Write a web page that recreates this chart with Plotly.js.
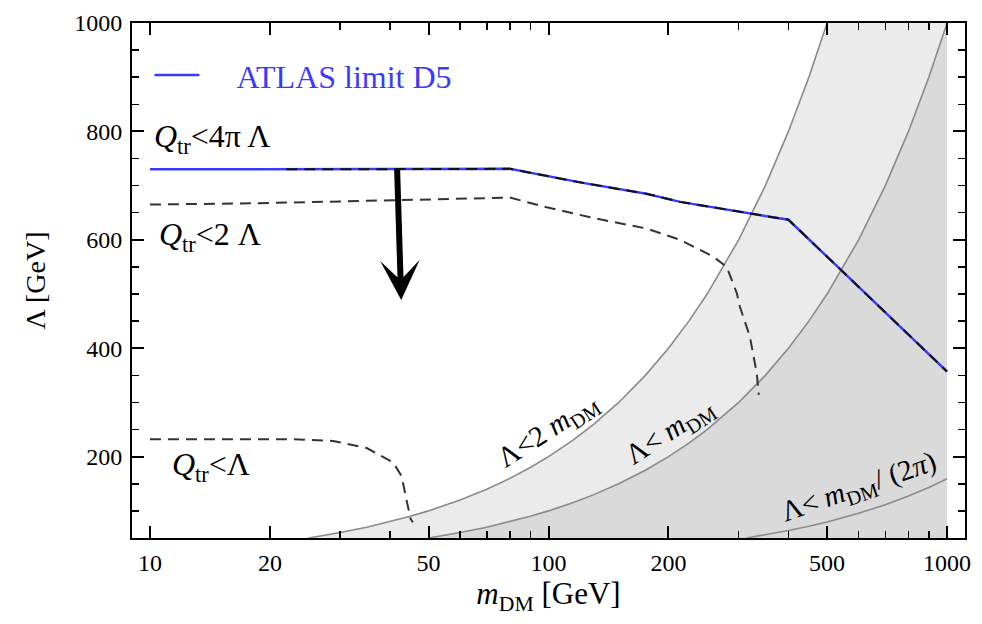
<!DOCTYPE html>
<html>
<head>
<meta charset="utf-8">
<script src="https://cdn.plot.ly/plotly-3.0.1.min.js"></script>
<style>html,body{margin:0;padding:0;background:#fff;}#chart{width:982px;height:624px;}</style>
</head>
<body>
<div id="chart"></div>
<script>
// ---- data ----
const atlasM = [10, 20, 40, 80, 120, 176, 214, 327, 400, 532, 1000];
const atlasL = [730, 730, 731, 731, 706, 685, 670, 648, 637, 550, 357];

const q4piM = [22, 40, 80, 120, 176, 214, 327, 400, 532, 1000];
const q4piL = [730, 731, 731, 706, 685, 670, 648, 637, 550, 357];

const q2M = [10, 20, 40.7, 80, 99, 132, 176, 214, 259, 280, 297, 302, 320, 333, 337];
const q2L = [665, 668, 673, 678, 660, 639, 621, 600, 569, 550, 501, 477, 422, 354, 314];

const q1M = [10, 20, 22.9, 28.8, 35.0, 40.8, 42.8, 44.0, 45.1, 45.7];
const q1L = [232, 232, 232, 229, 216, 189, 164, 121, 85, 79];

const b2mM = [25, 30, 35, 40, 45, 50, 60, 70, 80, 90, 100, 115, 130, 150, 175, 200, 225, 250, 300, 350, 400, 450, 500];
const b2mL = [50, 60, 70, 80, 90, 100, 120, 140, 160, 180, 200, 230, 260, 300, 350, 400, 450, 500, 600, 700, 800, 900, 1000];

const b1mM = [50, 60, 70, 80, 90, 100, 115, 130, 150, 175, 200, 225, 250, 300, 350, 400, 450, 500, 600, 700, 800, 900, 1000];
const b1mL = [50, 60, 70, 80, 90, 100, 115, 130, 150, 175, 200, 225, 250, 300, 350, 400, 450, 500, 600, 700, 800, 900, 1000];

const b2piM = [314, 350, 400, 450, 500, 600, 700, 800, 900, 1000];
const b2piL = [50, 55.7, 63.7, 71.6, 79.6, 95.5, 111.4, 127.3, 143.2, 159.2];

const xTickVals = [10, 20, 50, 100, 200, 500, 1000];
const xTickText = ['10', '20', '50', '100', '200', '500', '1000'];
const xMinorVals = [30, 40, 60, 70, 80, 90, 300, 400, 600, 700, 800, 900];
const yTickVals = [200, 400, 600, 800, 1000];
const yTickText = ['200', '400', '600', '800', '1000'];
const yRange = [50, 1000];
const mMax = 1000;

// ---- styling ----
const SERIF = '"Liberation Serif", "Times New Roman", serif';
const lightFill = '#ebebeb';
const darkFill = '#dadada';
const boundColor = '#8a8a8a';
const NB = '\u00a0';

// shaded regions built from the boundary curves
const lightX = b2mM.concat([mMax, mMax]);
const lightY = b2mL.concat([yRange[1], yRange[0]]);
const darkX = b1mM.concat([mMax]);
const darkY = b1mL.concat([yRange[0]]);

const traces = [
  {x: lightX, y: lightY, type: 'scatter', mode: 'lines', fill: 'toself', fillcolor: lightFill,
   line: {width: 0}, showlegend: false, hoverinfo: 'skip'},
  {x: darkX, y: darkY, type: 'scatter', mode: 'lines', fill: 'toself', fillcolor: darkFill,
   line: {width: 0}, showlegend: false, hoverinfo: 'skip'},
  {x: b2mM, y: b2mL, type: 'scatter', mode: 'lines', line: {color: boundColor, width: 1.6}, showlegend: false},
  {x: b1mM, y: b1mL, type: 'scatter', mode: 'lines', line: {color: boundColor, width: 1.6}, showlegend: false},
  {x: b2piM, y: b2piL, type: 'scatter', mode: 'lines', line: {color: boundColor, width: 1.6}, showlegend: false},
  {x: atlasM, y: atlasL, type: 'scatter', mode: 'lines', name: NB + NB + NB + NB + 'ATLAS limit D5',
   line: {color: '#3a3aff', width: 2.5}, showlegend: true},
  {x: q4piM, y: q4piL, type: 'scatter', mode: 'lines', line: {color: '#111', width: 2, dash: '11px,7px'}, showlegend: false},
  {x: q2M, y: q2L, type: 'scatter', mode: 'lines', line: {color: '#333', width: 2, dash: '11px,7px'}, showlegend: false},
  {x: q1M, y: q1L, type: 'scatter', mode: 'lines', line: {color: '#333', width: 2, dash: '11px,7px'}, showlegend: false}
];

const L = Math.log10;
const annFont = {family: SERIF, size: 32, color: '#000'};
const rotFont = {family: SERIF, size: 29, color: '#000'};
const annotations = [
  {x: L(10.1), y: 787, xref: 'x', yref: 'y', xanchor: 'left', yanchor: 'middle', showarrow: false,
   text: '<i>Q</i><sub>tr</sub><4π Λ', font: annFont},
  {x: L(10.4), y: 607, xref: 'x', yref: 'y', xanchor: 'left', yanchor: 'middle', showarrow: false,
   text: '<i>Q</i><sub>tr</sub><2 Λ', font: annFont},
  {x: L(11.2), y: 182, xref: 'x', yref: 'y', xanchor: 'left', yanchor: 'middle', showarrow: false,
   text: '<i>Q</i><sub>tr</sub><Λ', font: annFont},
  {x: L(100), y: 247, xref: 'x', yref: 'y', showarrow: false, textangle: -33,
   text: 'Λ<2 <i>m</i><sub>DM</sub>', font: rotFont},
  {x: L(202), y: 245, xref: 'x', yref: 'y', showarrow: false, textangle: -33,
   text: 'Λ< <i>m</i><sub>DM</sub>', font: rotFont},
  {x: L(600), y: 143, xref: 'x', yref: 'y', showarrow: false, textangle: -19,
   text: 'Λ< <i>m</i><sub>DM</sub>/ (2<i>π</i>)', font: rotFont},
  {x: L(42.7), y: 489, ax: L(41.7), ay: 732, xref: 'x', yref: 'y', axref: 'x', ayref: 'y',
   showarrow: true, arrowhead: 3, arrowwidth: 6, arrowsize: 1.1, arrowcolor: '#000', text: ''}
];

const layout = {
  width: 982, height: 624,
  margin: {l: 132, r: 17, t: 23, b: 86},
  paper_bgcolor: '#fff', plot_bgcolor: '#fff',
  font: {family: SERIF, color: '#000'},
  showlegend: true,
  legend: {x: 0.021, y: 0.952, xanchor: 'left', yanchor: 'top', bgcolor: 'rgba(0,0,0,0)',
           font: {family: SERIF, size: 32, color: '#3a3aff'}, itemwidth: 45},
  xaxis: {
    type: 'log', range: [0.955, 3.045], tickmode: 'array', tickvals: xTickVals, ticktext: xTickText,
    ticks: 'inside', ticklen: 12, tickwidth: 2, tickcolor: '#000', mirror: 'allticks',
    showline: true, linewidth: 2, linecolor: '#000', showgrid: false, zeroline: false,
    tickfont: {family: SERIF, size: 24, color: '#000'}, ticklabelstandoff: 2,
    minor: {tickmode: 'array', tickvals: xMinorVals, ticks: 'inside', ticklen: 7, tickwidth: 1.5, tickcolor: '#000', showgrid: false},
    title: {text: '<i>m</i><sub>DM</sub> [GeV]', font: {family: SERIF, size: 31, color: '#000'}, standoff: 8}
  },
  yaxis: {
    range: yRange, tickmode: 'array', tickvals: yTickVals, ticktext: yTickText,
    ticks: 'inside', ticklen: 12, tickwidth: 2, tickcolor: '#000', mirror: 'allticks',
    showline: true, linewidth: 2, linecolor: '#000', showgrid: false, zeroline: false,
    tickfont: {family: SERIF, size: 24, color: '#000'}, ticklabelstandoff: 3,
    minor: {dtick: 50, tick0: 0, ticks: 'inside', ticklen: 7, tickwidth: 1.5, tickcolor: '#000', showgrid: false},
    title: {text: 'Λ [GeV]', font: {family: SERIF, size: 28, color: '#000'}, standoff: 20}
  },
  annotations: annotations
};

Plotly.newPlot('chart', traces, layout, {staticPlot: true, displayModeBar: false});
</script>
</body>
</html>
